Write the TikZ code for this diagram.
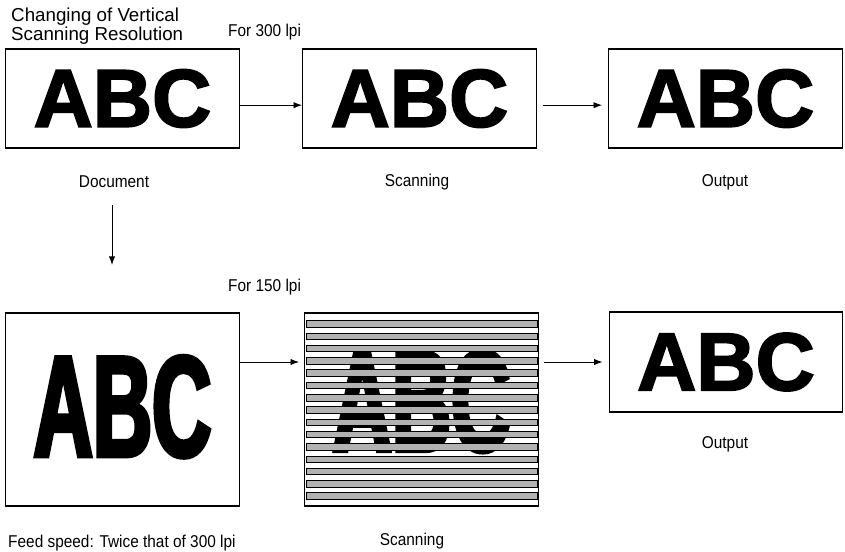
\documentclass[tikz,border=0pt]{standalone}
\usepackage{fontspec}
\setmainfont{Liberation Sans}
\newfontfamily\lblfont[FakeStretch=0.9]{Liberation Sans}
\newfontfamily\abcfont[BoldFeatures={FakeBold=2.2}]{Liberation Sans}
\newfontfamily\abcnarrow[FakeStretch=0.57,BoldFeatures={FakeBold=2.8}]{Liberation Sans}
\usetikzlibrary{arrows.meta}
\begin{document}
\begin{tikzpicture}[x=0.03cm, y=-0.03cm,
    box/.style={draw, line width=1.1pt, minimum width=7cm, inner sep=0pt},
    abc/.style={font=\abcfont\bfseries\fontsize{70}{70}\selectfont},
    abcnar/.style={font=\abcnarrow\bfseries\fontsize{123}{123}\selectfont},
    lbl/.style={font=\lblfont\fontsize{14.6}{16}\selectfont, inner sep=0pt},
    arr/.style={-{Latex[length=2.6mm,width=1.9mm]}, line width=0.8pt},
    band/.style={fill=gray!60, draw=black, line width=0.5pt}]
    \useasboundingbox (0,0) rectangle (845,551);
    % Title
    \node[anchor=north west, align=left, inner sep=0pt,
          font=\fontsize{16}{12.3}\selectfont] (title) at (11,8)
          {Changing of Vertical\\Scanning Resolution};
    \node[lbl, anchor=base west] (res300) at (228,36) {For 300 lpi};
    \node[lbl, anchor=base west] (res150) at (228,291) {For 150 lpi};
    % Top row
    \node[box, abc, minimum height=2.97cm] (doc1)  at (122.5,98.5) {ABC};
    \node[box, abc, minimum height=2.97cm] (scan1) at (419.5,98.5) {ABC};
    \node[box, abc, minimum height=2.97cm] (out1)  at (725.5,98.5) {ABC};
    \node[lbl, anchor=base] (doclbl)   at (114,187) {Document};
    \node[lbl, anchor=base] (scanlbl1) at (417,186) {Scanning};
    \node[lbl, anchor=base] (outlbl1)  at (725,186) {Output};
    % Bottom row
    \node[box, abcnar, minimum height=5.79cm, text height=88pt, text depth=8pt]
          (doc2) at (122.5,409.5) {ABC};
    \node[box, minimum height=5.79cm] (scan2) at (421.5,409.5) {};
    \node[abcnar, inner sep=0pt] (scanabc) at (421.5,401.5) {ABC};
    \foreach \i in {0,...,14}
        \draw[band] (306,320.5+12.3*\i) rectangle (537,327+12.3*\i);
    \node[box, abc, minimum height=3cm] (out2) at (726,362) {ABC};
    \node[lbl, anchor=base] (outlbl2)  at (725,448) {Output};
    \node[lbl, anchor=base] (scanlbl2) at (412,545) {Scanning};
    \node[lbl, anchor=base west] (feed) at (8,547) {Feed speed: Twice that of 300 lpi};
    % Arrows
    \coordinate (dtop) at (112,205);
    \coordinate (dbot) at (112,265);
    \draw[arr] ([yshift=-0.2cm]doc1.east) -- ([yshift=-0.2cm]scan1.west);
    \draw[arr, shorten <=0.2cm, shorten >=0.18cm] ([yshift=-0.2cm]scan1.east) -- ([yshift=-0.2cm]out1.west);
    \draw[arr] (dtop) -- (dbot);
    \draw[arr, shorten >=0.15cm] (doc2.east |- out2) -- (scan2.west |- out2);
    \draw[arr, shorten <=0.15cm, shorten >=0.18cm] (scan2.east |- out2) -- (out2.west);
\end{tikzpicture}
\end{document}
